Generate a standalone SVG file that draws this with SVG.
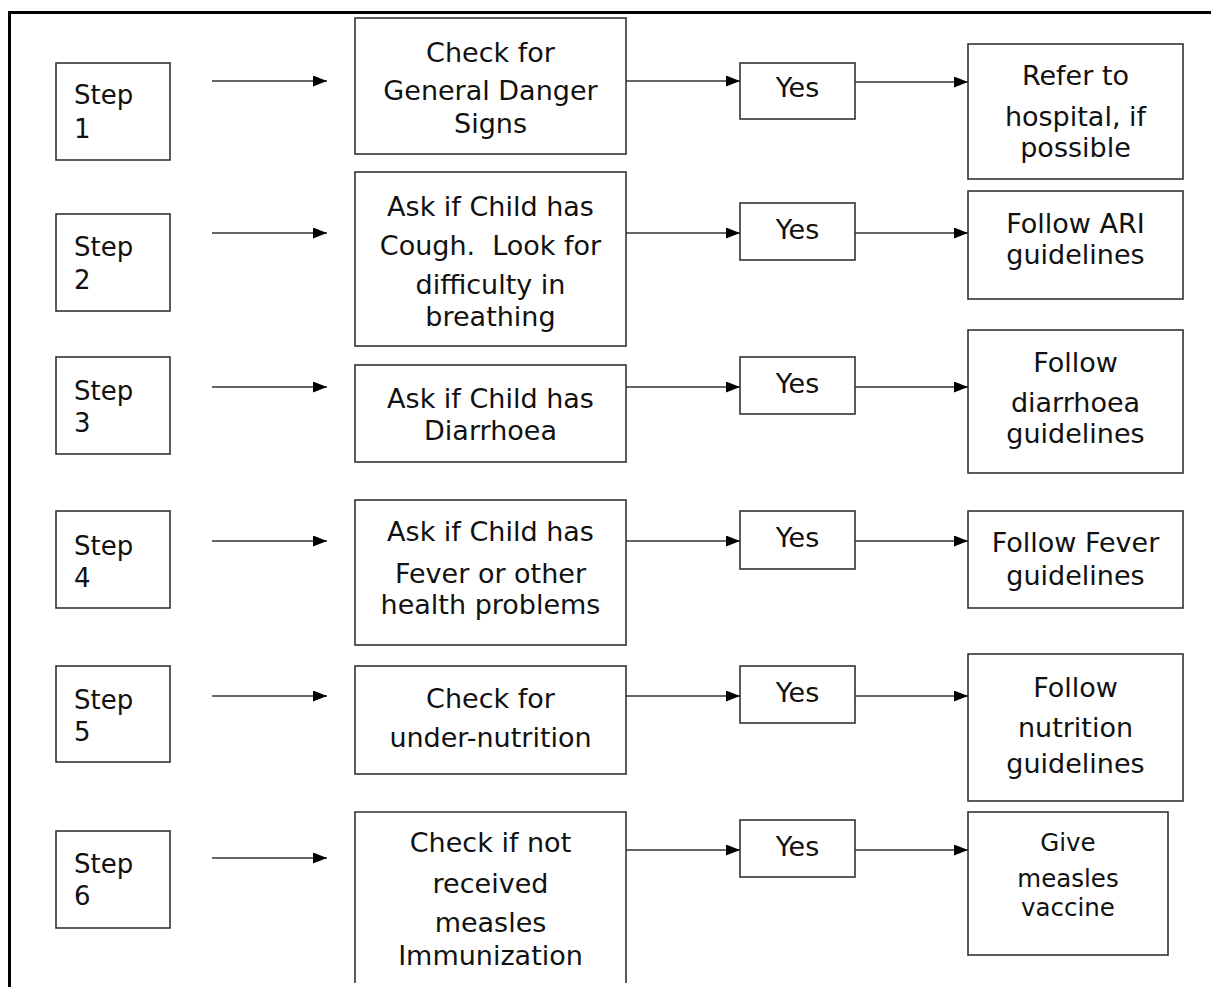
<svg xmlns="http://www.w3.org/2000/svg" width="1211" height="987" viewBox="0 0 1211 987">
<style>
.box{fill:#fff;stroke:#333;stroke-width:1.6}
.t{font-family:"DejaVu Sans","Liberation Sans",sans-serif;font-size:27px;fill:#111;text-anchor:middle}
.s{font-family:"DejaVu Sans","Liberation Sans",sans-serif;font-size:26px;fill:#111}
.sm{font-size:24.5px}
.c{stroke:#333;stroke-width:1.6;fill:none;marker-end:url(#ah)}
.frame{stroke:#000;stroke-width:3;fill:none}
</style>
<defs>
<marker id="ah" markerWidth="14" markerHeight="11" refX="14" refY="5.5" orient="auto" markerUnits="userSpaceOnUse">
<path d="M0,0 L14,5.5 L0,11 Z" fill="#000"/>
</marker>
</defs>
<rect width="1211" height="987" fill="#fff"/>
<path class="frame" d="M9.5,987 V12.5 H1211"/>

<g id="step1"><rect class="box" x="56" y="63" width="114" height="97"/><text class="s" x="74" y="104">Step</text><text class="s" x="74" y="138">1</text></g>
<g id="step2"><rect class="box" x="56" y="214" width="114" height="97"/><text class="s" x="74" y="256">Step</text><text class="s" x="74" y="289">2</text></g>
<g id="step3"><rect class="box" x="56" y="357" width="114" height="97"/><text class="s" x="74" y="400">Step</text><text class="s" x="74" y="432">3</text></g>
<g id="step4"><rect class="box" x="56" y="511" width="114" height="97"/><text class="s" x="74" y="555">Step</text><text class="s" x="74" y="587">4</text></g>
<g id="step5"><rect class="box" x="56" y="666" width="114" height="96"/><text class="s" x="74" y="709">Step</text><text class="s" x="74" y="741">5</text></g>
<g id="step6"><rect class="box" x="56" y="831" width="114" height="97"/><text class="s" x="74" y="873">Step</text><text class="s" x="74" y="905">6</text></g>

<g id="check1"><rect class="box" x="355" y="18" width="271" height="136"/>
<text class="t" x="490.5" y="62">Check for</text><text class="t" x="490.5" y="100">General Danger</text><text class="t" x="490.5" y="133">Signs</text></g>
<g id="check2"><rect class="box" x="355" y="172" width="271" height="174"/>
<text class="t" x="490.5" y="216">Ask if Child has</text><text class="t" x="490.5" y="255" xml:space="preserve">Cough.  Look for</text><text class="t" x="490.5" y="294">difficulty in</text><text class="t" x="490.5" y="326">breathing</text></g>
<g id="check3"><rect class="box" x="355" y="365" width="271" height="97"/>
<text class="t" x="490.5" y="408">Ask if Child has</text><text class="t" x="490.5" y="440">Diarrhoea</text></g>
<g id="check4"><rect class="box" x="355" y="500" width="271" height="145"/>
<text class="t" x="490.5" y="541">Ask if Child has</text><text class="t" x="490.5" y="583">Fever or other</text><text class="t" x="490.5" y="614">health problems</text></g>
<g id="check5"><rect class="box" x="355" y="666" width="271" height="108"/>
<text class="t" x="490.5" y="708">Check for</text><text class="t" x="490.5" y="747">under-nutrition</text></g>
<g id="check6"><path class="box" d="M355,983 V812 H626 V983" fill="none"/>
<text class="t" x="490.5" y="852">Check if not</text><text class="t" x="490.5" y="893">received</text><text class="t" x="490.5" y="932">measles</text><text class="t" x="490.5" y="965">Immunization</text></g>

<g id="yes1"><rect class="box" x="740" y="63" width="115" height="56"/><text class="t" x="797.5" y="97">Yes</text></g>
<g id="yes2"><rect class="box" x="740" y="203" width="115" height="57"/><text class="t" x="797.5" y="239">Yes</text></g>
<g id="yes3"><rect class="box" x="740" y="357" width="115" height="57"/><text class="t" x="797.5" y="393">Yes</text></g>
<g id="yes4"><rect class="box" x="740" y="511" width="115" height="58"/><text class="t" x="797.5" y="547">Yes</text></g>
<g id="yes5"><rect class="box" x="740" y="666" width="115" height="57"/><text class="t" x="797.5" y="702">Yes</text></g>
<g id="yes6"><rect class="box" x="740" y="820" width="115" height="57"/><text class="t" x="797.5" y="856">Yes</text></g>

<g id="out1"><rect class="box" x="968" y="44" width="215" height="135"/>
<text class="t" x="1075.5" y="85">Refer to</text><text class="t" x="1075.5" y="126">hospital, if</text><text class="t" x="1075.5" y="157">possible</text></g>
<g id="out2"><rect class="box" x="968" y="191" width="215" height="108"/>
<text class="t" x="1075.5" y="233">Follow ARI</text><text class="t" x="1075.5" y="264">guidelines</text></g>
<g id="out3"><rect class="box" x="968" y="330" width="215" height="143"/>
<text class="t" x="1075.5" y="372">Follow</text><text class="t" x="1075.5" y="412">diarrhoea</text><text class="t" x="1075.5" y="443">guidelines</text></g>
<g id="out4"><rect class="box" x="968" y="511" width="215" height="97"/>
<text class="t" x="1075.5" y="552">Follow Fever</text><text class="t" x="1075.5" y="585">guidelines</text></g>
<g id="out5"><rect class="box" x="968" y="654" width="215" height="147"/>
<text class="t" x="1075.5" y="697">Follow</text><text class="t" x="1075.5" y="737">nutrition</text><text class="t" x="1075.5" y="773">guidelines</text></g>
<g id="out6"><rect class="box" x="968" y="812" width="200" height="143"/>
<text class="t sm" x="1068" y="851">Give</text><text class="t sm" x="1068" y="887">measles</text><text class="t sm" x="1068" y="916">vaccine</text></g>

<g id="connectors">
<line class="c" x1="212" y1="81" x2="327" y2="81"/>
<line class="c" x1="212" y1="233" x2="327" y2="233"/>
<line class="c" x1="212" y1="387" x2="327" y2="387"/>
<line class="c" x1="212" y1="541" x2="327" y2="541"/>
<line class="c" x1="212" y1="696" x2="327" y2="696"/>
<line class="c" x1="212" y1="858" x2="327" y2="858"/>
<line class="c" x1="626" y1="81" x2="740" y2="81"/>
<line class="c" x1="626" y1="233" x2="740" y2="233"/>
<line class="c" x1="626" y1="387" x2="740" y2="387"/>
<line class="c" x1="626" y1="541" x2="740" y2="541"/>
<line class="c" x1="626" y1="696" x2="740" y2="696"/>
<line class="c" x1="626" y1="850" x2="740" y2="850"/>
<line class="c" x1="855" y1="82" x2="968" y2="82"/>
<line class="c" x1="855" y1="233" x2="968" y2="233"/>
<line class="c" x1="855" y1="387" x2="968" y2="387"/>
<line class="c" x1="855" y1="541" x2="968" y2="541"/>
<line class="c" x1="855" y1="696" x2="968" y2="696"/>
<line class="c" x1="855" y1="850" x2="968" y2="850"/>
</g>
</svg>
